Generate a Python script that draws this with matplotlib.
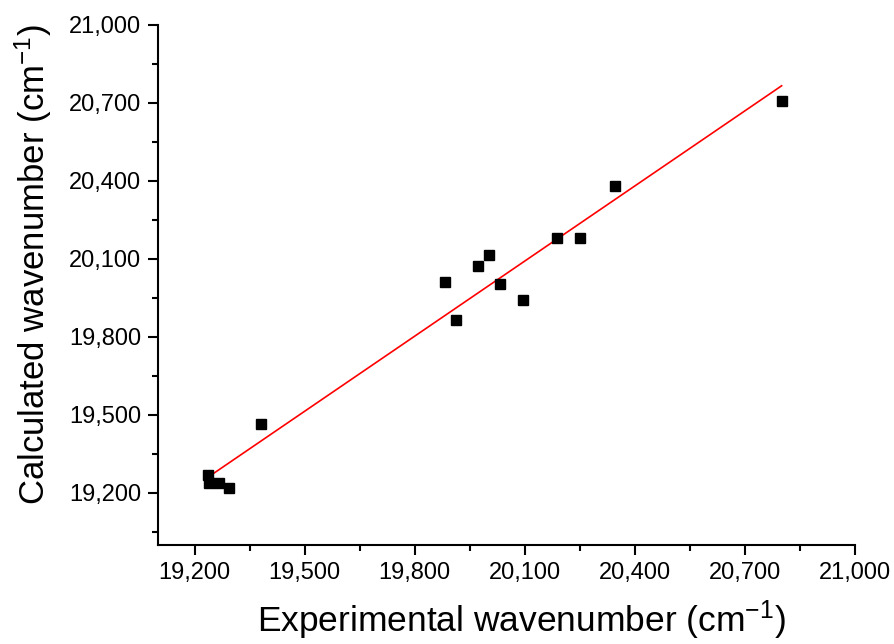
import numpy as np
import matplotlib
matplotlib.use("Agg")
import matplotlib.pyplot as plt
from matplotlib.ticker import MultipleLocator, StrMethodFormatter

# Data
experimental = [19235, 19238, 19265, 19293, 19380, 19881, 19911, 19971,
                20001, 20031, 20094, 20189, 20249, 20345, 20800]
calculated = [19270, 19239, 19239, 19220, 19466, 20013, 19866, 20074,
              20117, 20005, 19944, 20182, 20182, 20379, 20706]

plt.rcParams['font.family'] = ['Liberation Sans', 'DejaVu Sans']
plt.rcParams['mathtext.fontset'] = 'custom'
plt.rcParams['mathtext.rm'] = 'Liberation Sans'
plt.rcParams['mathtext.it'] = 'Liberation Sans:italic'

fig = plt.figure(figsize=(8.94, 6.44), dpi=100)
ax = fig.add_axes([158 / 894, 1 - 545 / 644, (855 - 158) / 894, (545 - 25) / 644])

# linear fit over the data range
slope, intercept = np.polyfit(experimental, calculated, 1)
xfit = np.array([min(experimental), max(experimental)])
ax.plot(xfit, slope * xfit + intercept, color='red', lw=1.2, zorder=2)

ax.plot(experimental, calculated, 's', color='black', markersize=7.6,
        linestyle='none', zorder=3)

ax.set_xlim(19100, 21000)
ax.set_ylim(19000, 21000)
ax.xaxis.set_minor_locator(MultipleLocator(150))
ax.yaxis.set_minor_locator(MultipleLocator(150))
ax.set_xticks(np.arange(19200, 21001, 300))
ax.set_yticks(np.arange(19200, 21001, 300))
ax.xaxis.set_major_formatter(StrMethodFormatter('{x:,.0f}'))
ax.yaxis.set_major_formatter(StrMethodFormatter('{x:,.0f}'))

for side in ['top', 'right']:
    ax.spines[side].set_visible(False)
for side in ['left', 'bottom']:
    ax.spines[side].set_linewidth(1.5)

ax.tick_params(which='major', direction='out', length=7, width=1.5,
               labelsize=17, pad=5)
ax.tick_params(which='minor', direction='out', length=4.5, width=1.5)

ax.set_xlabel('Experimental wavenumber (cm$^{-1}$)', fontsize=25.5)
ax.set_ylabel('Calculated wavenumber (cm$^{-1}$)', fontsize=25)
ax.xaxis.set_label_coords(0.5215, -0.102)
ax.yaxis.set_label_coords(-0.149, 0.539)

fig.savefig('out.png', dpi=100)
